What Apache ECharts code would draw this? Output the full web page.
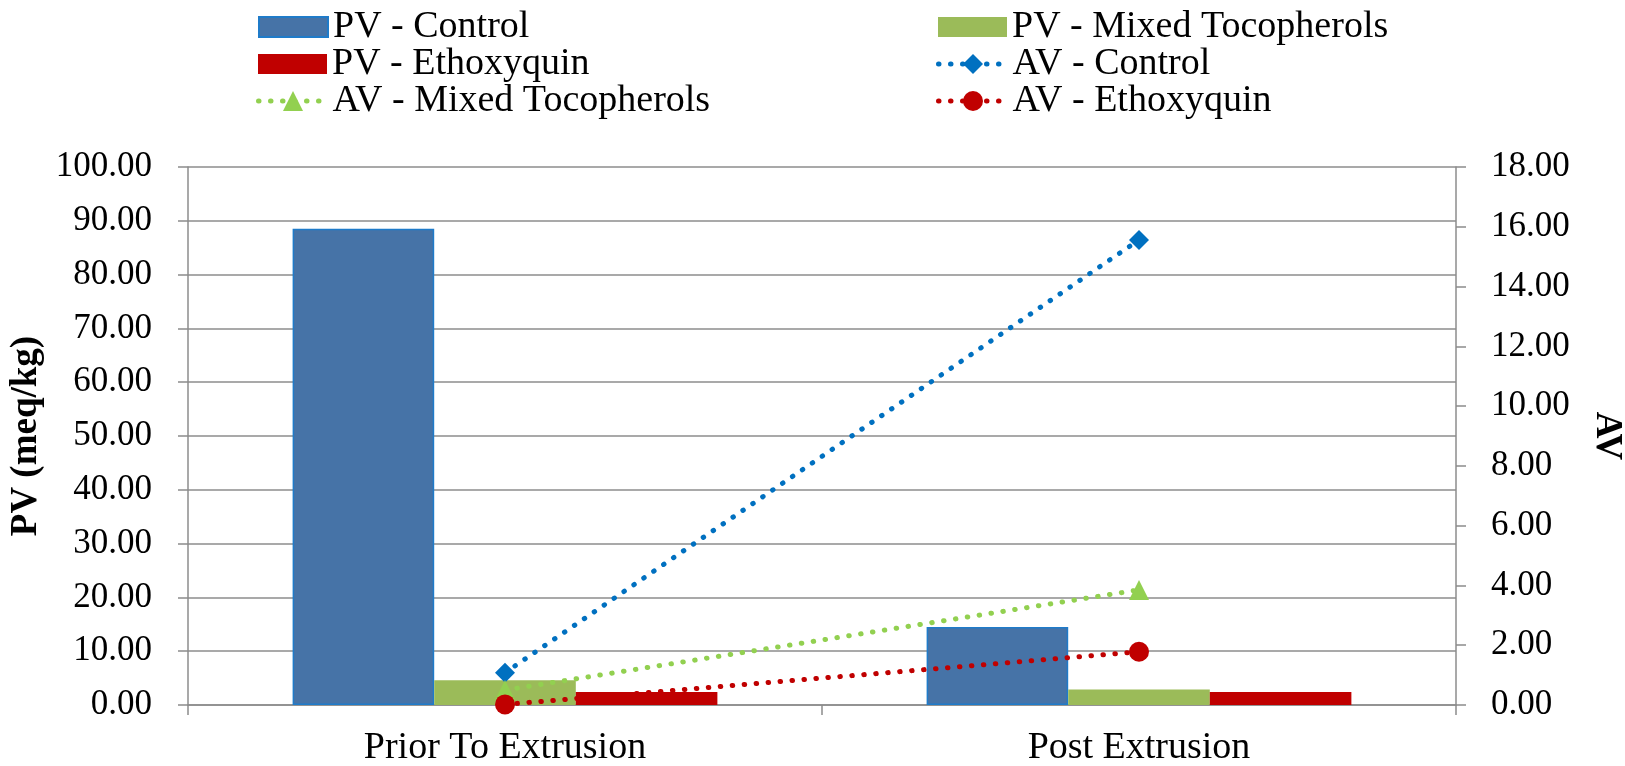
<!DOCTYPE html>
<html>
<head>
<meta charset="utf-8">
<script src="https://cdn.jsdelivr.net/npm/echarts@6/dist/echarts.min.js"></script>
<style>
html,body{margin:0;padding:0;background:#fff;}
#chart{width:1625px;height:766px;}
</style>
</head>
<body>
<div id="chart"></div>
<script>
const categories = ['Prior To Extrusion', 'Post Extrusion'];
const pvControl = [88.5, 14.5];
const pvMixed = [4.6, 2.9];
const pvEthoxyquin = [2.4, 2.4];
const avControl = [1.08, 15.56];
const avMixed = [0.5, 3.85];
const avEthoxyquin = [0.02, 1.78];
const pvTicks = [0, 100, 10];
const avTicks = [0, 18, 2];

const FONT = "'Liberation Serif', 'Times New Roman', serif";
const GRID = '#8c8c8c';

const chart = echarts.init(document.getElementById('chart'));
const legendText = {fontFamily: FONT, fontSize: 38, color: '#000', lineHeight: 38};
const dotted = (c) => ({color: c, width: 5, type: [0.5, 11.5], cap: 'round'});

function barLegend(name, left, top) {
  return {left: left, top: top, padding: 0, itemWidth: 69, itemHeight: 20, icon: 'rect',
          textStyle: legendText, data: [name]};
}
function lineLegend(name, left, top) {
  return {left: left, top: top, padding: 0, itemWidth: 69, itemHeight: 25,
          lineStyle: {width: 5, type: [0.5, 11.5], cap: 'round'},
          textStyle: legendText, data: [name]};
}

chart.setOption({
  animation: false,
  backgroundColor: '#fff',
  legend: [
    barLegend('PV - Control', 258, 8),
    barLegend('PV - Mixed Tocopherols', 938, 8),
    barLegend('PV - Ethoxyquin', 258, 45),
    lineLegend('AV - Control', 936, 45),
    lineLegend('AV - Mixed Tocopherols', 256, 82),
    lineLegend('AV - Ethoxyquin', 936, 82)
  ],
  grid: {left: 188, right: 169, top: 167, bottom: 61, containLabel: false, outerBoundsMode: 'none'},
  xAxis: {
    type: 'category', data: categories,
    axisLine: {lineStyle: {color: GRID, width: 1.5}},
    axisTick: {show: true, alignWithLabel: false, length: 10, lineStyle: {color: GRID, width: 1.5}},
    axisLabel: {fontFamily: FONT, fontSize: 38, color: '#000', margin: 24}
  },
  yAxis: [
    {type: 'value', min: pvTicks[0], max: pvTicks[1], interval: pvTicks[2],
     name: 'PV (meq/kg)', nameLocation: 'middle', nameGap: 138,
     nameTextStyle: {fontFamily: FONT, fontSize: 37, fontWeight: 'bold', color: '#000'},
     axisLine: {show: true, lineStyle: {color: GRID, width: 1.5}},
     axisTick: {show: true, length: 10, lineStyle: {color: GRID, width: 1.5}},
     splitLine: {show: true, lineStyle: {color: GRID, width: 1.5}},
     axisLabel: {fontFamily: FONT, fontSize: 35, color: '#000', margin: 36,
                 formatter: (v) => v.toFixed(2)}},
    {type: 'value', min: avTicks[0], max: avTicks[1], interval: avTicks[2], position: 'right',
     name: 'AV', nameLocation: 'middle', nameGap: 132, nameRotate: -90,
     nameTextStyle: {fontFamily: FONT, fontSize: 37, fontWeight: 'bold', color: '#000'},
     axisLine: {show: true, lineStyle: {color: GRID, width: 1.5}},
     axisTick: {show: true, length: 10, lineStyle: {color: GRID, width: 1.5}},
     splitLine: {show: false},
     axisLabel: {fontFamily: FONT, fontSize: 35, color: '#000', margin: 35,
                 formatter: (v) => v.toFixed(2)}}
  ],
  series: [
    {name: 'PV - Control', type: 'bar', data: pvControl, barGap: '0%', barCategoryGap: '33%',
     itemStyle: {color: '#4673A7', borderColor: '#1F7BC9', borderWidth: 1.5}},
    {name: 'PV - Mixed Tocopherols', type: 'bar', data: pvMixed,
     itemStyle: {color: '#9BBB59'}},
    {name: 'PV - Ethoxyquin', type: 'bar', data: pvEthoxyquin,
     itemStyle: {color: '#C00000'}},
    {name: 'AV - Control', type: 'line', yAxisIndex: 1, data: avControl,
     symbol: 'diamond', symbolSize: 20, z: 5,
     lineStyle: dotted('#0070C0'), itemStyle: {color: '#0070C0'}},
    {name: 'AV - Mixed Tocopherols', type: 'line', yAxisIndex: 1, data: avMixed,
     symbol: 'triangle', symbolSize: 20, z: 5,
     lineStyle: dotted('#92D050'), itemStyle: {color: '#92D050'}},
    {name: 'AV - Ethoxyquin', type: 'line', yAxisIndex: 1, data: avEthoxyquin,
     symbol: 'circle', symbolSize: 20, z: 5,
     lineStyle: dotted('#C00000'), itemStyle: {color: '#C00000'}}
  ]
});
</script>
</body>
</html>
